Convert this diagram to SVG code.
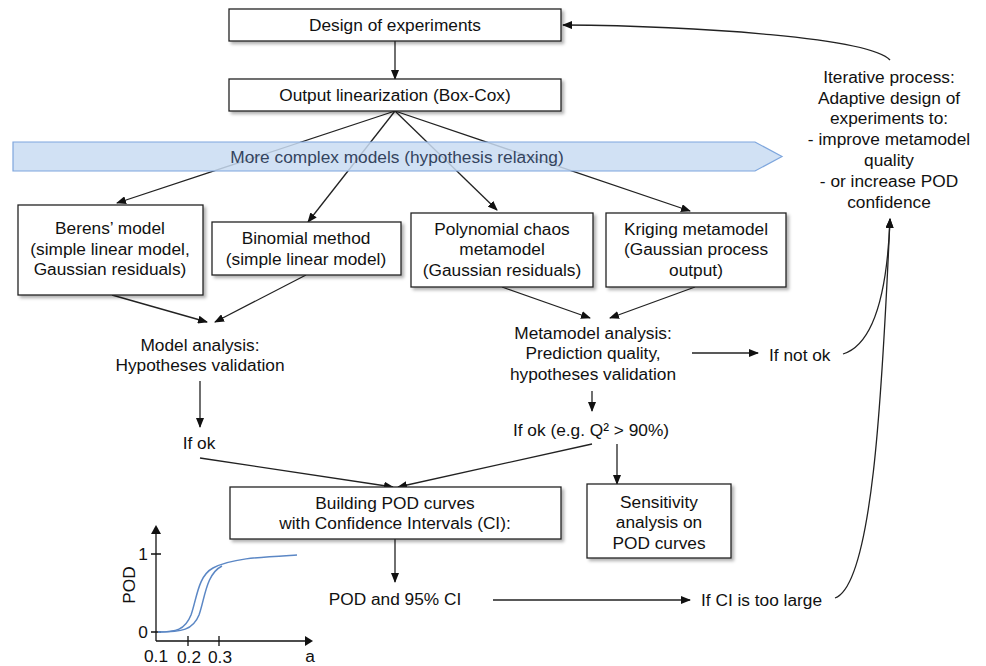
<svg xmlns="http://www.w3.org/2000/svg" width="986" height="666" viewBox="0 0 986 666">
<defs>
<filter id="sh" x="-10%" y="-10%" width="130%" height="140%">
<feDropShadow dx="2.5" dy="2.5" stdDeviation="1.5" flood-color="#000" flood-opacity="0.3"/>
</filter>
<marker id="ar" markerWidth="10" markerHeight="8" refX="9" refY="4" orient="auto" markerUnits="userSpaceOnUse">
<path d="M0,0 L10,4 L0,8 Z" fill="#111"/>
</marker>
<style>
text{font-family:"Liberation Sans",Arial,sans-serif;font-size:17.3px;fill:#111;text-anchor:middle}
.box{fill:#fff;stroke:#222;stroke-width:1.3;filter:url(#sh)}
.c{fill:none;stroke:#222;stroke-width:1.3}
.a{marker-end:url(#ar)}
.st{text-anchor:start}
.pod{fill:none;stroke:#5b87c5;stroke-width:1.5}
</style>
</defs>
<rect width="986" height="666" fill="#fff"/>

<g id="connectors">
<path class="c a" d="M395,41 L395,79"/>
<path class="c a" d="M395,111 L117,203"/>
<path class="c a" d="M395,111 L308,222"/>
<path class="c a" d="M395,111 L497,210"/>
<path class="c a" d="M395,111 L690,211"/>
<path class="c a" d="M112,295 L207,322"/>
<path class="c a" d="M306,275 L215,322"/>
<path class="c a" d="M502,287 L590,318"/>
<path class="c a" d="M695,287 L610,318"/>
<path class="c a" d="M200,381 L200,427"/>
<path class="c a" d="M692,353 L758,353"/>
<path class="c a" d="M592,391 L592,411"/>
<path class="c a" d="M617,444 L617,484"/>
<path class="c a" d="M200,458 L393,487"/>
<path class="c a" d="M592,444 L398,487"/>
<path class="c a" d="M395,539 L395,582"/>
<path class="c a" d="M493,600 L690,600"/>
<path class="c a" d="M843,354 C872,345 887,300 890,219"/>
<path class="c a" d="M835,598 C872,585 882,400 890,219"/>
<path class="c a" d="M890,60 C870,38 700,26 563,25"/>
</g>

<g id="banner">
<path d="M13,142 L755,142 L782,156.5 L755,171 L13,171 Z" fill="#c9dcf2" fill-opacity="0.85" stroke="#7ea6dd" stroke-width="1.2"/>
<text x="397" y="163" style="fill:#34445e">More complex models (hypothesis relaxing)</text>
</g>

<g id="doe">
<rect class="box" x="229" y="9" width="332" height="32"/>
<text x="395" y="31">Design of experiments</text>
</g>
<g id="linearization">
<rect class="box" x="229" y="79" width="332" height="32"/>
<text x="395" y="101">Output linearization (Box-Cox)</text>
</g>
<g id="berens">
<rect class="box" x="18" y="205" width="185" height="90"/>
<text x="110" y="234">Berens’ model</text>
<text x="110" y="255">(simple linear model,</text>
<text x="110" y="275">Gaussian residuals)</text>
</g>
<g id="binomial">
<rect class="box" x="212" y="222" width="189" height="53"/>
<text x="306" y="244">Binomial method</text>
<text x="306" y="265">(simple linear model)</text>
</g>
<g id="polynomial">
<rect class="box" x="411" y="213" width="182" height="74"/>
<text x="502" y="235">Polynomial chaos</text>
<text x="502" y="255">metamodel</text>
<text x="502" y="276">(Gaussian residuals)</text>
</g>
<g id="kriging">
<rect class="box" x="606" y="213" width="180" height="74"/>
<text x="696" y="235">Kriging metamodel</text>
<text x="696" y="255">(Gaussian process</text>
<text x="696" y="276">output)</text>
</g>
<g id="model-analysis">
<text x="200" y="351">Model analysis:</text>
<text x="200" y="371">Hypotheses validation</text>
</g>
<g id="if-ok">
<text x="199" y="449">If ok</text>
</g>
<g id="metamodel-analysis">
<text x="593" y="339">Metamodel analysis:</text>
<text x="593" y="359">Prediction quality,</text>
<text x="593" y="380">hypotheses validation</text>
</g>
<g id="if-not-ok">
<text class="st" x="769" y="361">If not ok</text>
</g>
<g id="if-ok-q2">
<text x="591" y="436">If ok (e.g. Q² &gt; 90%)</text>
</g>
<g id="sensitivity">
<rect class="box" x="587" y="484" width="144" height="74"/>
<text x="659" y="508">Sensitivity</text>
<text x="659" y="528">analysis on</text>
<text x="659" y="549">POD curves</text>
</g>
<g id="building">
<rect class="box" x="230" y="487" width="331" height="52"/>
<text x="395" y="509">Building POD curves</text>
<text x="395" y="529">with Confidence Intervals (CI):</text>
</g>
<g id="pod-ci">
<text x="395" y="605">POD and 95% CI</text>
</g>
<g id="ci-large">
<text class="st" x="701" y="606">If CI is too large</text>
</g>
<g id="iterative">
<text x="889" y="83">Iterative process:</text>
<text x="889" y="104">Adaptive design of</text>
<text x="889" y="124">experiments to:</text>
<text x="889" y="145">- improve metamodel</text>
<text x="889" y="166">quality</text>
<text x="889" y="187">- or increase POD</text>
<text x="889" y="208">confidence</text>
</g>

<g id="pod-chart">
<path d="M156,641 L156,531" stroke="#111" stroke-width="1.3"/>
<path d="M151,534 L156,525 L161,534 Z" fill="#111"/>
<path d="M156,641 L308,641" stroke="#111" stroke-width="1.3"/>
<path d="M305,636 L313,641 L305,646 Z" fill="#111"/>
<path d="M151,554 L161,554 M151,632 L161,632 M188,636 L188,646 M219,636 L219,646" stroke="#111" stroke-width="1.3"/>
<text x="143" y="560">1</text>
<text x="143" y="638">0</text>
<text x="156" y="662">0.1</text>
<text x="189" y="663">0.2</text>
<text x="220" y="663">0.3</text>
<text x="310" y="662">a</text>
<text x="0" y="0" transform="translate(135,585) rotate(-90)">POD</text>
<path class="pod" d="M158,632 C176,632 185,630 191,615 C197,598 198,576 213,568 C232,558 262,557 297,555"/>
<path class="pod" d="M158,632 C182,632 193,630 199,615 C205,598 206,574 222,566"/>
</g>
</svg>
